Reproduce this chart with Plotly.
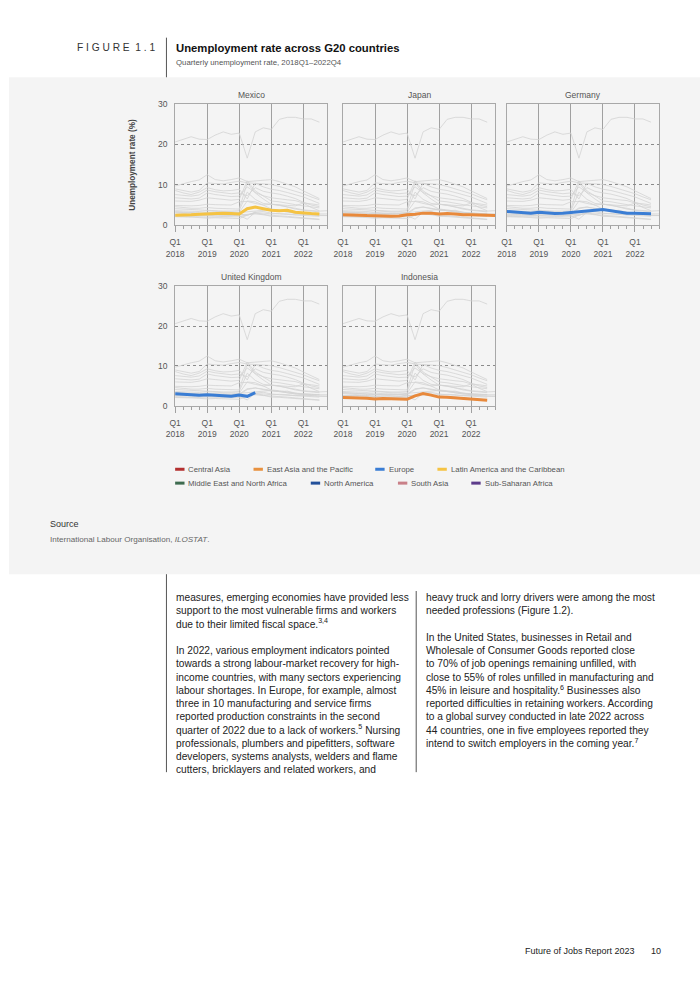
import plotly.graph_objects as go

# ---------------- data ----------------
QUARTERS = ["2018Q1", "2018Q2", "2018Q3", "2018Q4",
            "2019Q1", "2019Q2", "2019Q3", "2019Q4",
            "2020Q1", "2020Q2", "2020Q3", "2020Q4",
            "2021Q1", "2021Q2", "2021Q3", "2021Q4",
            "2022Q1", "2022Q2", "2022Q3", "2022Q4"]
TICK_QUARTERS = ["2018Q1", "2019Q1", "2020Q1", "2021Q1", "2022Q1"]
TICK_LABELS = ["Q1<br>2018", "Q1<br>2019", "Q1<br>2020", "Q1<br>2021", "Q1<br>2022"]
Y_TICKS = [0, 10, 20, 30]

MEXICO = [2.5, 2.5, 2.6, 2.7, 2.85, 2.9, 3.0, 2.9, 2.8, 4.1, 4.5, 4.1, 3.7, 3.6, 3.7, 3.2, 3.0, 2.9, 2.8, None]
JAPAN = [2.6, 2.6, 2.5, 2.4, 2.4, 2.3, 2.2, 2.3, 2.6, 2.7, 3.0, 3.0, 2.8, 2.9, 2.8, 2.6, 2.6, 2.6, 2.5, 2.4]
GERMANY = [3.4, 3.3, 3.1, 3.0, 3.2, 3.0, 2.9, 2.95, 3.1, 3.3, 3.4, 3.7, 3.9, 3.6, 3.2, 3.0, 3.0, 2.85, 2.85, None]
UNITED_KINGDOM = [3.05, 3.0, 2.8, 2.7, 2.8, 2.7, 2.5, 2.4, 2.7, 2.4, 3.3, None, None, None, None, None, None, None, None, None]
INDONESIA = [2.1, 2.1, 2.0, 1.9, 1.75, 1.85, 1.75, 1.7, 1.65, 2.5, 3.1, 2.7, 2.2, 2.15, 2.0, 1.95, 1.8, 1.7, 1.4, None]

OTHER_COUNTRIES = [
    [20.6, 21.3, 21.9, 21.3, 21.2, 22.3, 23.1, 22.5, 22.8, 16.6, 23.1, 24.1, 23.7, 26.2, 26.7, 26.7, 26.3, 26.3, 25.5, None],
    [9.7, 10.3, 10.8, 11.2, 12.5, 11.3, 11.0, 11.3, 11.7, 10.8, 11.0, 11.2, 11.3, 10.8, 10.2, 9.5, 8.5, 7.5, 6.6, None],
    [9.0, 8.6, 8.2, 8.6, 10.5, 10.3, 10.2, 10.6, 10.9, 10.5, 10.4, 10.2, 10.1, 9.6, 9.0, 8.5, 7.8, 7.0, 6.3, None],
    [8.6, 8.0, 7.6, 8.2, 9.3, 8.8, 8.5, 8.6, 8.9, 6.5, 10.4, 9.5, 8.9, 8.6, 8.1, 7.6, 7.0, 6.2, 5.4, None],
    [7.6, 7.4, 7.2, 7.5, 8.7, 8.3, 8.0, 7.8, 8.0, 7.3, 9.3, 8.4, 8.0, 7.7, 7.2, 6.6, 5.7, 5.0, 4.6, None],
    [6.8, 6.6, 6.5, 6.7, 8.0, 7.6, 7.3, 7.1, 7.2, 9.5, 8.1, 7.3, 6.8, 6.5, 6.3, 6.1, 5.5, 4.4, 3.6, None],
    [6.0, 6.0, 5.9, 6.2, 6.8, 6.6, 6.4, 6.2, 6.4, 11.0, 8.5, 7.2, 6.0, 5.8, 5.4, 5.1, 4.8, 4.5, 4.3, None],
    [4.9, 4.8, 4.8, 4.9, 5.2, 5.1, 5.0, 5.0, 5.8, 5.9, 5.4, 5.0, 5.2, 5.0, 4.9, 4.8, 5.5, 5.3, 5.0, None],
    [4.6, 4.4, 4.2, 4.2, 4.4, 4.2, 4.1, 4.0, 4.0, 10.5, 8.0, 6.5, 5.2, 4.9, 4.6, 4.2, 3.8, 3.6, 3.5, 3.6],
    [4.1, 4.0, 3.9, 3.8, 3.6, 3.6, 3.5, 3.5, 3.6, 8.2, 6.4, 5.4, 5.2, 5.0, 4.5, 4.0, 3.7, 3.5, 3.3, None],
    [3.6, 3.5, 3.5, 3.4, 3.6, 3.4, 3.3, 3.3, 3.2, 6.0, 5.8, 5.0, 4.0, 3.8, 3.5, 3.2, 2.9, 2.8, 2.8, 2.8],
    [3.2, 3.2, 3.1, 3.0, 2.8, 2.9, 2.9, 2.8, 3.0, 4.3, 4.5, 4.2, 3.9, 3.5, 3.2, 3.0, 2.8, 2.6, 2.4, 2.4],
    [2.5, 2.6, 2.6, 2.5, 2.4, 2.5, 2.5, 2.4, 2.4, 1.5, 3.2, 3.4, 3.0, 2.8, 2.7, 2.6, 2.4, 2.3, 2.2, None],
    [2.2, 2.2, 2.1, 2.1, 2.0, 2.0, 2.1, 2.0, 2.1, 2.6, 2.8, 2.6, 2.5, 2.3, 2.2, 2.0, 1.8, 1.7, 1.5, None],
]

PANEL_NAMES = ["Mexico", "Japan", "Germany", "United Kingdom", "Indonesia"]
PANEL_SERIES = [MEXICO, JAPAN, GERMANY, UNITED_KINGDOM, INDONESIA]
PANEL_COLORS = ["#f5c343", "#e8893b", "#3a7dd4", "#3a7dd4", "#e8893b"]

REGIONS = ["Central Asia", "East Asia and the Pacific", "Europe", "Latin America and the Caribbean",
           "Middle East and North Africa", "North America", "South Asia", "Sub-Saharan Africa"]
REGION_COLORS = ["#b3302f", "#e8913f", "#3a7dd4", "#f5c343", "#3d6b4f", "#22509a", "#c98088", "#5c3b8a"]

LEFT_TEXT = [
    "measures, emerging economies have provided less",
    "support to the most vulnerable firms and workers",
    "due to their limited fiscal space.<sup>3,4</sup>",
    " ",
    "In 2022, various employment indicators pointed",
    "towards a strong labour-market recovery for high-",
    "income countries, with many sectors experiencing",
    "labour shortages. In Europe, for example, almost",
    "three in 10 manufacturing and service firms",
    "reported production constraints in the second",
    "quarter of 2022 due to a lack of workers.<sup>5</sup> Nursing",
    "professionals, plumbers and pipefitters, software",
    "developers, systems analysts, welders and flame",
    "cutters, bricklayers and related workers, and",
]
RIGHT_TEXT = [
    "heavy truck and lorry drivers were among the most",
    "needed professions (Figure 1.2).",
    " ",
    "In the United States, businesses in Retail and",
    "Wholesale of Consumer Goods reported close",
    "to 70% of job openings remaining unfilled, with",
    "close to 55% of roles unfilled in manufacturing and",
    "45% in leisure and hospitality.<sup>6</sup> Businesses also",
    "reported difficulties in retaining workers. According",
    "to a global survey conducted in late 2022 across",
    "44 countries, one in five employees reported they",
    "intend to switch employers in the coming year.<sup>7</sup>",
]

# ---------------- layout helpers ----------------
W, H = 700, 990
FONT = "Liberation Sans, Arial, sans-serif"


def px(x):
    return x / W


def py(y):
    return 1 - y / H


X = list(range(len(QUARTERS)))
TICK_X = [QUARTERS.index(q) for q in TICK_QUARTERS]

# panel boxes in page pixels: (left, right, top, bottom)
BOXES = [(168.3, 322.5, 100.0, 222.5), (338.3, 492.5, 100.0, 222.5), (504.3, 658.5, 100.0, 222.5),
         (168.3, 322.5, 284.0, 405.0), (338.3, 492.5, 284.0, 405.0)]

fig = go.Figure()
annotations = []
shapes = []

for i, (name, series, color, box) in enumerate(zip(PANEL_NAMES, PANEL_SERIES, PANEL_COLORS, BOXES), start=1):
    sfx = "" if i == 1 else str(i)
    xa, ya = "x" + sfx, "y" + sfx
    for s in OTHER_COUNTRIES + PANEL_SERIES:
        fig.add_trace(go.Scatter(x=X, y=s, mode="lines", xaxis=xa, yaxis=ya,
                                 line=dict(color="#d3d3d3", width=0.8),
                                 hoverinfo="skip", showlegend=False))
    fig.add_trace(go.Scatter(x=X, y=series, mode="lines", xaxis=xa, yaxis=ya, name=name,
                             line=dict(color=color, width=3), showlegend=False))
    l, r, t, b = box
    fig.layout["xaxis" + sfx] = dict(
        domain=[px(l), px(r)], anchor=ya, range=[0, len(QUARTERS) - 1],
        tickmode="array", tickvals=TICK_X, ticktext=TICK_LABELS,
        ticks="outside", ticklen=6, tickwidth=1, tickcolor="#a0a0a0",
        ticklabelstandoff=3,
        minor=dict(dtick=1, tick0=0, ticks="outside", ticklen=3, tickcolor="#a0a0a0", showgrid=False),
        showgrid=True, gridcolor="#a0a0a0", gridwidth=1,
        showline=True, mirror=True, linecolor="#a8a8a8", linewidth=1,
        zeroline=False, fixedrange=True,
        tickfont=dict(family=FONT, size=8.5, color="#555555"),
    )
    fig.layout["yaxis" + sfx] = dict(
        domain=[py(b), py(t)], anchor=xa, range=[0, 30],
        tickmode="array", tickvals=Y_TICKS,
        showticklabels=(i in (1, 4)),
        ticks="outside", ticklen=5, tickcolor="rgba(0,0,0,0)",
        showgrid=True, gridcolor="#8a8a8a", griddash="dot", gridwidth=1,
        showline=True, mirror=True, linecolor="#a8a8a8", linewidth=1,
        zeroline=False, fixedrange=True,
        tickfont=dict(family=FONT, size=8.5, color="#555555"),
    )
    annotations.append(dict(text=name, xref=xa + " domain", yref=ya + " domain", x=0.5, y=1,
                            xanchor="center", yanchor="bottom", yshift=2, showarrow=False,
                            font=dict(family=FONT, size=8.5, color="#555555")))

# y axis title
annotations.append(dict(text="<b>Unemployment rate (%)</b>", xref="paper", yref="paper",
                        x=px(125), y=py(161), textangle=-90, showarrow=False,
                        xanchor="center", yanchor="middle",
                        font=dict(family=FONT, size=8.2, color="#444444")))

# legend (manual, matching the reference layout)
LEG_POS = [(168.3, 469), (247.7, 469), (371.0, 469), (434.0, 469),
           (168.3, 483), (305.7, 483), (394.0, 483), (468.3, 483)]
for region, col, (lx, ly) in zip(REGIONS, REGION_COLORS, LEG_POS):
    shapes.append(dict(type="line", xref="paper", yref="paper", x0=px(lx), x1=px(lx + 9.5),
                       y0=py(ly), y1=py(ly), line=dict(color=col, width=3)))
    annotations.append(dict(text=region, xref="paper", yref="paper", x=px(lx + 11.5), y=py(ly),
                            xanchor="left", yanchor="middle", showarrow=False,
                            font=dict(family=FONT, size=7.8, color="#555555")))

# header, source, body text, footer
annotations += [
    dict(text="F I G U R E  1 . 1", xref="paper", yref="paper", x=px(67), y=py(43),
         xanchor="left", yanchor="middle", showarrow=False,
         font=dict(family=FONT, size=10.2, color="#333333")),
    dict(text="<b>Unemployment rate across G20 countries</b>", xref="paper", yref="paper",
         x=px(167), y=py(43), xanchor="left", yanchor="middle", showarrow=False,
         font=dict(family=FONT, size=11.3, color="#111111")),
    dict(text="Quarterly unemployment rate, 2018Q1–2022Q4", xref="paper", yref="paper",
         x=px(167), y=py(58), xanchor="left", yanchor="middle", showarrow=False,
         font=dict(family=FONT, size=7.8, color="#555555")),
    dict(text="Source", xref="paper", yref="paper", x=px(40), y=py(524),
         xanchor="left", yanchor="middle", showarrow=False,
         font=dict(family=FONT, size=9, color="#333333")),
    dict(text="International Labour Organisation, <i>ILOSTAT</i>.", xref="paper", yref="paper",
         x=px(40), y=py(540), xanchor="left", yanchor="middle", showarrow=False,
         font=dict(family=FONT, size=8.1, color="#666666")),
    dict(text="<br>".join(LEFT_TEXT), xref="paper", yref="paper", x=px(167), y=py(591),
         xanchor="left", yanchor="top", align="left", showarrow=False,
         font=dict(family=FONT, size=10.2, color="#222222")),
    dict(text="<br>".join(RIGHT_TEXT), xref="paper", yref="paper", x=px(420), y=py(591),
         xanchor="left", yanchor="top", align="left", showarrow=False,
         font=dict(family=FONT, size=10.2, color="#222222")),
    dict(text="Future of Jobs Report 2023", xref="paper", yref="paper", x=px(636), y=py(955.5),
         xanchor="right", yanchor="middle", showarrow=False,
         font=dict(family=FONT, size=9, color="#222222")),
    dict(text="10", xref="paper", yref="paper", x=px(648.5), y=py(955.5),
         xanchor="left", yanchor="middle", showarrow=False,
         font=dict(family=FONT, size=9, color="#222222")),
]

# background band and dividers
shapes += [
    dict(type="rect", xref="paper", yref="paper", x0=0, x1=1, y0=py(575), y1=py(73),
         fillcolor="#f4f4f4", line=dict(width=0), layer="below"),
    dict(type="line", xref="paper", yref="paper", x0=px(159.5), x1=px(159.5), y0=py(73), y1=py(33),
         line=dict(color="#555555", width=1)),
    dict(type="line", xref="paper", yref="paper", x0=px(159.5), x1=px(159.5), y0=py(775), y1=py(575),
         line=dict(color="#555555", width=1)),
    dict(type="line", xref="paper", yref="paper", x0=px(412.5), x1=px(412.5), y0=py(775), y1=py(592),
         line=dict(color="#555555", width=1)),
]

fig.update_layout(
    width=W, height=H, margin=dict(l=0, r=0, t=0, b=0),
    paper_bgcolor="#ffffff", plot_bgcolor="rgba(0,0,0,0)",
    annotations=annotations, shapes=shapes, showlegend=False,
    font=dict(family=FONT),
)

# the page body's default 8px margin would push the 700x990 figure off the window
fig.write_html("out.html",
               config={"displayModeBar": False},
               post_script="document.body.style.margin='0px';document.body.style.overflow='hidden';")
